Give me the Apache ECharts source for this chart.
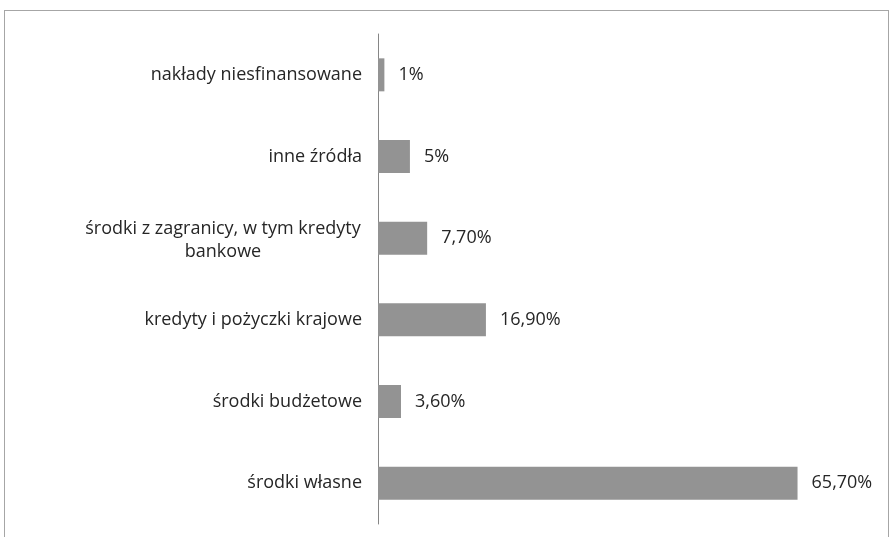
<!DOCTYPE html>
<html>
<head>
<meta charset="utf-8">
<script src="https://cdn.jsdelivr.net/npm/echarts@6/dist/echarts.min.js"></script>
<style>
  html, body { margin: 0; padding: 0; background: #ffffff; }
  #frame { position: absolute; left: 4px; top: 10px; width: 885px; height: 540px;
           border: 1px solid #a6a6a6; box-sizing: border-box; }
  #chart { position: absolute; left: 0; top: 0; width: 892px; height: 537px; }
</style>
</head>
<body>
<div id="frame"></div>
<div id="chart"></div>
<script>
// Sources of financing (share, %), listed bottom to top
const categories = [
  'środki własne',
  'środki budżetowe',
  'kredyty i pożyczki krajowe',
  'środki z zagranicy, w tym kredyty bankowe',
  'inne źródła',
  'nakłady niesfinansowane'
];
const shares = [65.7, 3.6, 16.9, 7.7, 5, 1];
const shareLabels = ['65,70%', '3,60%', '16,90%', '7,70%', '5%', '1%'];

const FONT = '"Open Sans", Lato, sans-serif';
const FONT_SIZE = 18;
const TEXT = '#262626';

// Wrap long category names into centred lines
function wrapName(name) {
  const maxChars = 34;
  if (name.length <= maxChars) return name;
  const words = name.split(' ');
  const lines = [];
  let cur = '';
  words.forEach(w => {
    const next = cur ? cur + ' ' + w : w;
    if (next.length > maxChars && cur) { lines.push(cur); cur = w; }
    else cur = next;
  });
  if (cur) lines.push(cur);
  return lines.map(l => '{c|' + l + '}').join('\n');
}

const chart = echarts.init(document.getElementById('chart'));
chart.setOption({
  animation: false,
  grid: { left: 378, right: 67, top: 34, bottom: 13, containLabel: false },
  xAxis: {
    type: 'value', min: 0, max: 70,
    show: false
  },
  yAxis: {
    type: 'category',
    data: categories,
    axisLine: { show: true, lineStyle: { color: '#868686', width: 1 } },
    axisTick: { show: false },
    axisLabel: {
      margin: 16,
      color: TEXT,
      fontFamily: FONT,
      fontSize: FONT_SIZE,
      formatter: wrapName,
      rich: { c: { width: 278, align: 'center', fontFamily: FONT, fontSize: FONT_SIZE, color: TEXT, lineHeight: 23, padding: [4, 0, 0, 0] } }
    }
  },
  series: [{
    type: 'bar',
    data: shares,
    barWidth: 33,
    itemStyle: { color: '#939393' },
    label: {
      show: true,
      position: 'right',
      distance: 14,
      color: TEXT,
      fontFamily: FONT,
      fontSize: FONT_SIZE,
      formatter: p => shareLabels[p.dataIndex]
    }
  }]
});
</script>
</body>
</html>
